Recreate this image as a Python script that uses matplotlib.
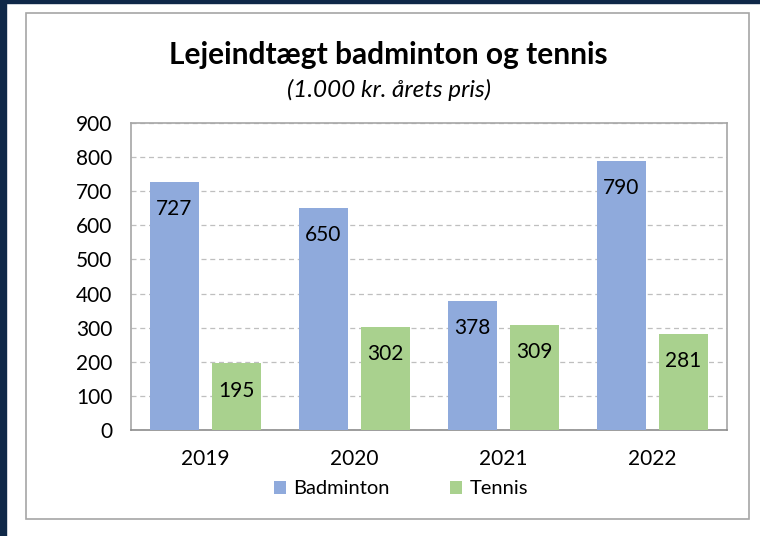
import matplotlib

matplotlib.use("Agg")
import matplotlib.pyplot as plt
from matplotlib.patches import Rectangle
import numpy as np

years = ["2019", "2020", "2021", "2022"]
badminton = [727, 650, 378, 790]
tennis = [195, 302, 309, 281]
yticks = [0, 100, 200, 300, 400, 500, 600, 700, 800, 900]

BLUE = "#8FAADC"
GREEN = "#A9D18E"
NAVY = "#0F2848"
FRAME = "#A6A6A6"
GRID = "#BFBFBF"

plt.rcParams["font.family"] = ["Lato", "DejaVu Sans"]

W, H = 760, 536
fig = plt.figure(figsize=(W / 100, H / 100), dpi=100, facecolor="white")


def px(x0, y0, x1, y1):
    # pixel box (top-left origin) -> figure fraction rect
    return [x0 / W, 1 - y1 / H, (x1 - x0) / W, (y1 - y0) / H]


# dark page edge and chart frame
fig.patches.append(Rectangle((0, 0), 6 / W, 1, transform=fig.transFigure,
                             color=NAVY, zorder=0))
fig.patches.append(Rectangle((0, 1 - 3 / H), 1, 3 / H, transform=fig.transFigure,
                             color=NAVY, zorder=0))
fig.patches.append(Rectangle((26 / W, 1 - 519 / H), (749 - 26) / W, (519 - 13) / H,
                             transform=fig.transFigure, fill=False,
                             edgecolor=FRAME, lw=1.2, zorder=1))

ax = fig.add_axes(px(131, 123, 727, 430))
x = np.arange(len(years))
w = 0.33
off = 0.208
b1 = ax.bar(x - off, badminton, w, color=BLUE, zorder=3, label="Badminton")
b2 = ax.bar(x + off, tennis, w, color=GREEN, zorder=3, label="Tennis")

# value labels just inside the top of each bar
for bars, vals in ((b1, badminton), (b2, tennis)):
    for r, v in zip(bars, vals):
        ax.annotate(f"{v}", (r.get_x() + r.get_width() / 2, v),
                    xytext=(0, -19.5), textcoords="offset points",
                    ha="center", va="center", fontsize=15, color="black",
                    zorder=4)

ax.set_xlim(-0.5, len(years) - 0.5)
ax.set_ylim(0, 900)
ax.set_yticks(yticks)
ax.set_xticks(x)
ax.set_xticklabels(years)
ax.tick_params(length=0, labelsize=15, colors="black")
ax.tick_params(axis="y", pad=13.5)
ax.tick_params(axis="x", pad=14)
ax.yaxis.grid(True, color=GRID, ls=(0, (4, 3)), lw=0.9, zorder=0)
ax.set_axisbelow(True)
for name, sp in ax.spines.items():
    sp.set_color(FRAME)
    sp.set_linewidth(1.2)
ax.spines["bottom"].set_color("#8C8C8C")

fig.text(388 / W, 1 - 55 / H, "Lejeindtægt badminton og tennis", ha="center",
         va="center", fontsize=21.5, fontweight="bold")
fig.text(389 / W, 1 - 90 / H, "(1.000 kr. årets pris)", ha="center",
         va="center", fontsize=17.5, style="italic")

fig.legend(handles=[b1, b2], loc="center", bbox_to_anchor=(401 / W, 1 - 489 / H),
           ncol=2, frameon=False, fontsize=14.5, handlelength=0.6,
           handleheight=0.6, handletextpad=0.35, columnspacing=3.0)

fig.savefig("out.png", dpi=100, facecolor="white")
plt.close(fig)
